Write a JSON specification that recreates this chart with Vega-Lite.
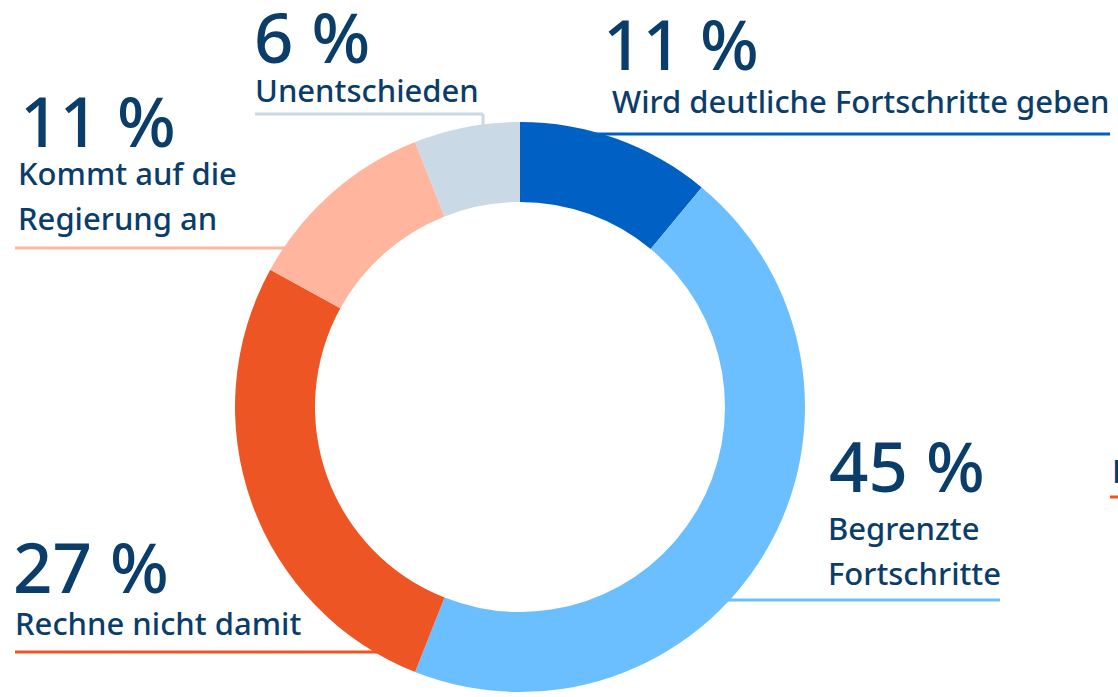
{
  "$schema": "https://vega.github.io/schema/vega-lite/v6.json",
  "width": 1118,
  "height": 697,
  "autosize": {"type": "none"},
  "padding": 0,
  "background": "white",
  "config": {"view": {"stroke": null}},
  "datasets": {
    "slices": [
      {"cat": "Wird deutliche Fortschritte geben", "share": 11, "idx": 1},
      {"cat": "Begrenzte Fortschritte", "share": 45, "idx": 2},
      {"cat": "Rechne nicht damit", "share": 27, "idx": 3},
      {"cat": "Kommt auf die Regierung an", "share": 11, "idx": 4},
      {"cat": "Unentschieden", "share": 6, "idx": 5}
    ],
    "labels": [
      {"cat": "Wird deutliche Fortschritte geben", "pct": "11 %", "px": 603, "py": 70, "sub": ["Wird deutliche Fortschritte geben"], "sx": 612, "sy": 113},
      {"cat": "Begrenzte Fortschritte", "pct": "45 %", "px": 829, "py": 492, "sub": ["Begrenzte", "Fortschritte"], "sx": 828, "sy": 540},
      {"cat": "Rechne nicht damit", "pct": "27 %", "px": 13, "py": 593, "sub": ["Rechne nicht damit"], "sx": 15, "sy": 635},
      {"cat": "Kommt auf die Regierung an", "pct": "11 %", "px": 20, "py": 147, "sub": ["Kommt auf die", "Regierung an"], "sx": 18, "sy": 185},
      {"cat": "Unentschieden", "pct": "6 %", "px": 254, "py": 63, "sub": ["Unentschieden"], "sx": 255, "sy": 102}
    ],
    "leaders": [
      {"cat": "Wird deutliche Fortschritte geben", "x": 580, "x2": 1110, "y": 134, "y2": 134},
      {"cat": "Begrenzte Fortschritte", "x": 700, "x2": 1000, "y": 600, "y2": 600},
      {"cat": "Rechne nicht damit", "x": 15, "x2": 400, "y": 652, "y2": 652},
      {"cat": "Rechne nicht damit", "x": 1110, "x2": 1118, "y": 497, "y2": 497},
      {"cat": "Kommt auf die Regierung an", "x": 15, "x2": 300, "y": 248, "y2": 248},
      {"cat": "Unentschieden", "x": 255, "x2": 483, "y": 114, "y2": 114},
      {"cat": "Unentschieden", "x": 483, "x2": 483, "y": 114, "y2": 130}
    ],
    "stray": [
      {"t": "R", "x": 1112, "y": 483}
    ]
  },
  "layer": [
    {
      "data": {"name": "leaders"},
      "mark": {"type": "rule", "strokeWidth": 3},
      "encoding": {
        "x": {"field": "x", "type": "quantitative", "scale": {"domain": [0, 1118], "nice": false, "zero": false}, "axis": null},
        "x2": {"field": "x2"},
        "y": {"field": "y", "type": "quantitative", "scale": {"domain": [697, 0], "nice": false, "zero": false}, "axis": null},
        "y2": {"field": "y2"},
        "color": {"field": "cat", "type": "nominal", "legend": null,
          "scale": {
            "domain": ["Wird deutliche Fortschritte geben", "Begrenzte Fortschritte", "Rechne nicht damit", "Kommt auf die Regierung an", "Unentschieden"],
            "range": ["#0060C4", "#6BBFFF", "#EE5524", "#FFB59E", "#C9D9E6"]
          }
        }
      }
    },
    {
      "data": {"name": "slices"},
      "mark": {"type": "arc", "radius": 285, "radius2": 205},
      "encoding": {
        "x": {"datum": 520, "type": "quantitative"},
        "y": {"datum": 407, "type": "quantitative"},
        "theta": {"field": "share", "type": "quantitative", "stack": true},
        "order": {"field": "idx", "type": "quantitative"},
        "color": {"field": "cat", "type": "nominal", "legend": null}
      }
    },
    {
      "data": {"name": "labels"},
      "mark": {"type": "text", "align": "left", "baseline": "alphabetic", "font": "Noto Sans", "fontSize": 69, "fontWeight": 550, "color": "#0B3D6B"},
      "encoding": {
        "x": {"field": "px", "type": "quantitative"},
        "y": {"field": "py", "type": "quantitative"},
        "text": {"field": "pct"}
      }
    },
    {
      "data": {"name": "labels"},
      "mark": {"type": "text", "align": "left", "baseline": "alphabetic", "font": "Noto Sans", "fontSize": 31, "fontWeight": 500, "lineHeight": 45, "color": "#0B3D6B"},
      "encoding": {
        "x": {"field": "sx", "type": "quantitative"},
        "y": {"field": "sy", "type": "quantitative"},
        "text": {"field": "sub"}
      }
    },
    {
      "data": {"name": "stray"},
      "mark": {"type": "text", "align": "left", "baseline": "alphabetic", "font": "Noto Sans", "fontSize": 32, "fontWeight": 500, "color": "#0B3D6B"},
      "encoding": {
        "x": {"field": "x", "type": "quantitative"},
        "y": {"field": "y", "type": "quantitative"},
        "text": {"field": "t"}
      }
    }
  ]
}
